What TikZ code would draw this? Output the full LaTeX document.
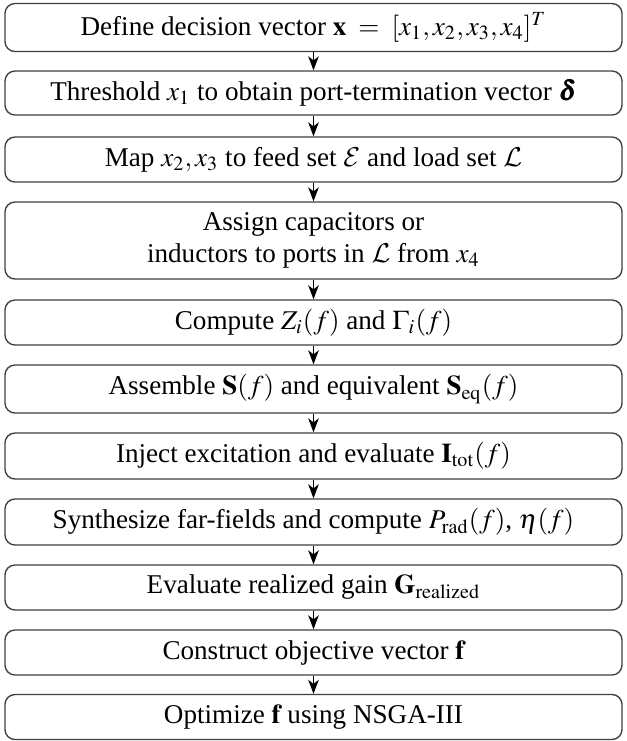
\documentclass[tikz,border=0pt]{standalone}
\usepackage{amsmath}
\usepackage{mathptmx}
\DeclareMathAlphabet{\mathcal}{OMS}{cmsy}{m}{n}
\usepackage{bm}
\usepackage{fontspec}
\setmainfont{Liberation Serif}
\usetikzlibrary{arrows.meta}
\begin{document}
\begin{tikzpicture}[x=0.4019pt,y=-0.4019pt,
  stepbox/.style={draw=black!75,line width=0.55pt,rounded corners=4pt,minimum width=617*0.4019pt,inner sep=0pt,align=center,font=\rmfamily\fontsize{10.9}{12.6}\selectfont},
  flow/.style={-{Stealth[length=5.6pt,width=4.2pt,inset=1.6pt]},line width=0.8pt}]
\useasboundingbox (0,0) rectangle (627,741);
\node[stepbox,minimum height=48*0.4019pt] (b1) at (313.5,27.5) {Define decision vector $\mathbf{x}\;=\;[x_1,x_2,x_3,x_4]^T$};
\node[stepbox,minimum height=44*0.4019pt] (b2) at (313.5,93) {Threshold $x_1$ to obtain port-termination vector $\bm{\delta}$};
\node[stepbox,minimum height=45*0.4019pt] (b3) at (313.5,159.5) {Map $x_2,x_3$ to feed set $\mathcal{E}$ and load set $\mathcal{L}$};
\node[stepbox,minimum height=77*0.4019pt] (b4) at (313.5,240.5) {Assign capacitors or\\ inductors to ports in $\mathcal{L}$ from $x_4$};
\node[stepbox,minimum height=45*0.4019pt] (b5) at (313.5,322.5) {Compute $Z_i(f)$ and $\Gamma_i(f)$};
\node[stepbox,minimum height=48*0.4019pt] (b6) at (313.5,389) {Assemble $\mathbf{S}(f)$ and equivalent $\mathbf{S}_{\mathrm{eq}}(f)$};
\node[stepbox,minimum height=46*0.4019pt] (b7) at (313.5,456) {Inject excitation and evaluate $\mathbf{I}_{\mathrm{tot}}(f)$};
\node[stepbox,minimum height=46*0.4019pt] (b8) at (313.5,522) {Synthesize far-fields and compute $P_{\mathrm{rad}}(f)$, $\eta(f)$};
\node[stepbox,minimum height=45*0.4019pt] (b9) at (313.5,587.5) {Evaluate realized gain $\mathbf{G}_{\mathrm{realized}}$};
\node[stepbox,minimum height=45*0.4019pt] (b10) at (313.5,652.5) {Construct objective vector $\mathbf{f}$};
\node[stepbox,minimum height=45*0.4019pt] (b11) at (313.5,717) {Optimize $\mathbf{f}$ using NSGA-III};
\foreach \a/\b in {b1/b2,b2/b3,b3/b4,b4/b5,b5/b6,b6/b7,b7/b8,b8/b9,b9/b10,b10/b11}
  \draw[flow] (\a.south) -- (\b.north);
\end{tikzpicture}
\end{document}
